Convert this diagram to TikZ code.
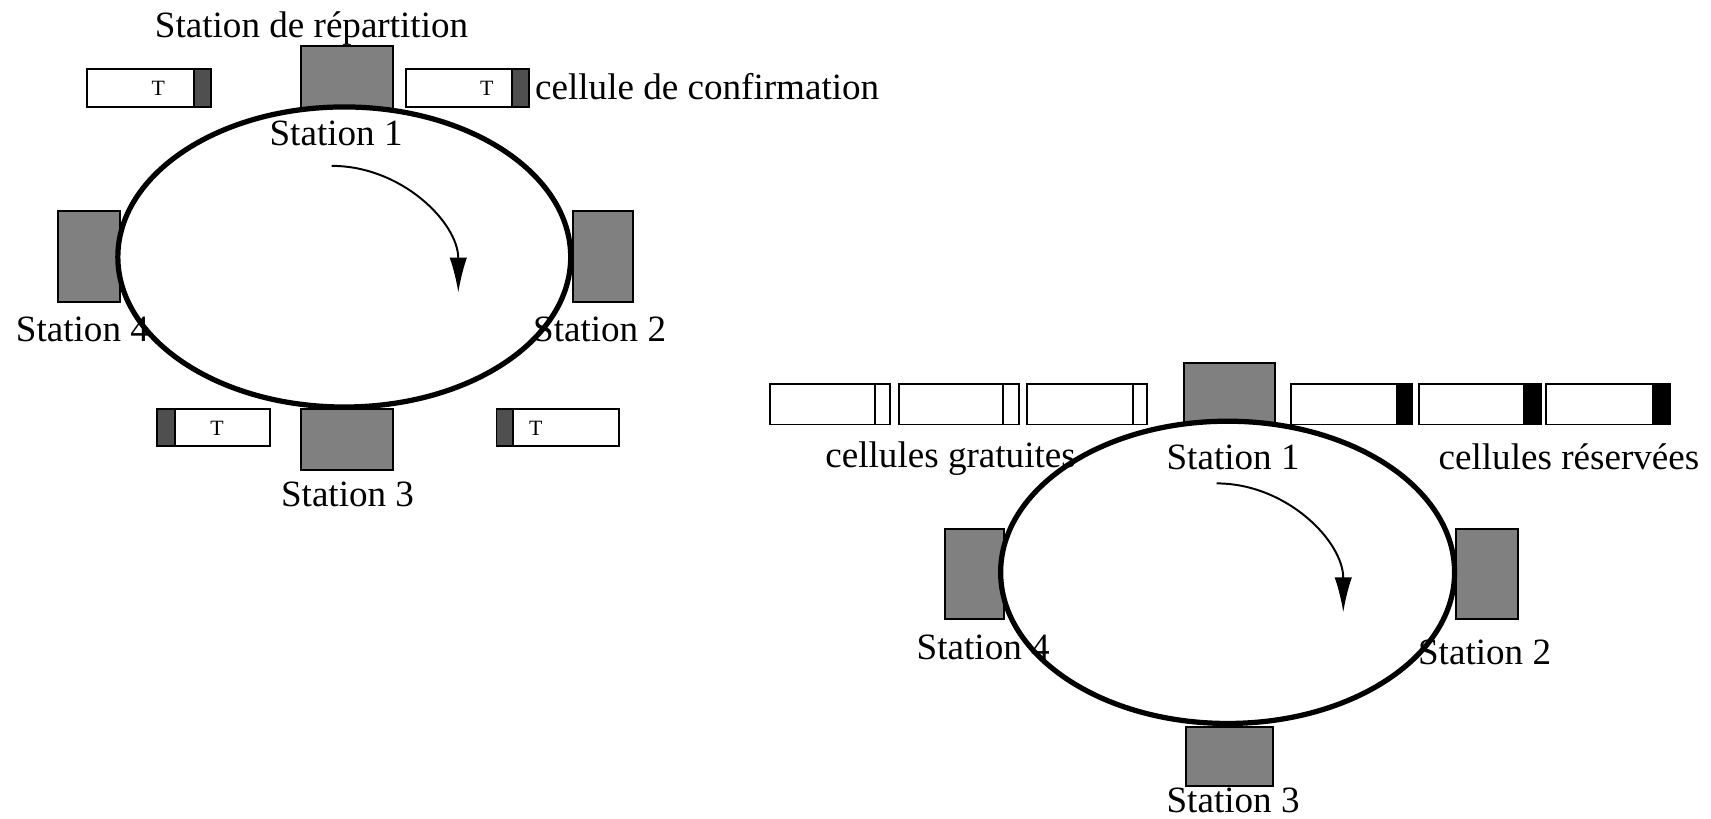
\documentclass[tikz,border=0pt]{standalone}
\usepackage{fontspec}
\setmainfont{Liberation Serif}
\usetikzlibrary{arrows.meta}
\definecolor{stgray}{gray}{0.5}
\definecolor{confgray}{gray}{0.31}
\tikzset{
  stationbox/.style={draw=black, fill=stgray, line width=0.9pt, inner sep=0pt, rectangle},
  cellbody/.style={draw=black, fill=white, line width=0.9pt, inner sep=0pt, rectangle},
  confend/.style={draw=black, fill=confgray, line width=0.9pt, inner sep=0pt, rectangle},
  resend/.style={draw=black, fill=black, line width=0.9pt, inner sep=0pt, rectangle},
  freeend/.style={draw=black, fill=white, line width=0.9pt, inner sep=0pt, rectangle},
  ring/.style={draw=black, fill=white, line width=2.4pt},
  lbl/.style={inner sep=0pt, font=\fontsize{17}{20}\selectfont},
  tlbl/.style={inner sep=0pt, font=\fontsize{10}{12}\selectfont},
  flow/.style={draw=black, line width=0.9pt, -{Latex[length=16pt,width=8pt]}}
}
\begin{document}
\begin{tikzpicture}[x=0.5pt,y=-0.5pt]
\useasboundingbox (0,0) rectangle (1568,750);

% ---------------- left diagram ----------------
\node[stationbox, minimum width=42pt, minimum height=34pt] (L1) at (318,76) {};
\node[stationbox, minimum width=27.5pt, minimum height=42pt] (L2) at (552.5,235) {};
\node[stationbox, minimum width=28.5pt, minimum height=42pt] (L4) at (81.5,235) {};
\node[stationbox, minimum width=42pt, minimum height=28pt] (L3) at (318,403) {};
\draw[ring] (315.5,235.5) ellipse [x radius=207.5, y radius=137.5];

% confirmation cells
\node[cellbody, minimum width=49pt, minimum height=17.5pt] (ca) at (129,80.5) {};
\node[confend, minimum width=7.5pt, minimum height=17.5pt] (cae) at (185.5,80.5) {};
\node[cellbody, minimum width=48.5pt, minimum height=17.5pt] (cb) at (420.5,80.5) {};
\node[confend, minimum width=8pt, minimum height=17.5pt] (cbe) at (477,80.5) {};
\node[confend, minimum width=8pt, minimum height=17pt] (cce) at (152,392) {};
\node[cellbody, minimum width=43.5pt, minimum height=17pt] (cc) at (203.5,392) {};
\node[confend, minimum width=7.5pt, minimum height=17pt] (cde) at (462.5,392) {};
\node[cellbody, minimum width=48.5pt, minimum height=17pt] (cd) at (518.5,392) {};
\node[tlbl] (ta) at (145,81) {T};
\node[tlbl] (tb) at (446,81) {T};
\node[tlbl] (tc) at (199,393) {T};
\node[tlbl] (td) at (491,393) {T};

\node[lbl, anchor=base] (lrep) at (285.5,34) {Station de répartition};
\node[lbl, anchor=base] (ls1) at (308,133) {Station 1};
\node[lbl, anchor=base west] (lconf) at (490,91) {cellule de confirmation};
\node[lbl, anchor=base] (ls2) at (549.5,313) {Station 2};
\node[lbl, anchor=base] (ls4) at (75.5,313) {Station 4};
\node[lbl, anchor=base] (ls3) at (318.5,464) {Station 3};

\coordinate (la) at (304,152);
\coordinate (lb) at (420,268);
\draw[flow] (la) .. controls (368,152) and (420,204) .. (lb);

% ---------------- right diagram ----------------
\node[stationbox, minimum width=41.5pt, minimum height=31pt] (R1) at (1126.5,364) {};
\node[stationbox, minimum width=28.5pt, minimum height=41pt] (R2) at (1362.5,526) {};
\node[stationbox, minimum width=27pt, minimum height=41pt] (R4) at (893,526) {};
\node[stationbox, minimum width=40pt, minimum height=27pt] (R3) at (1127,693) {};
\draw[ring] (1125,524.5) ellipse [x radius=208, y radius=138.5];

% free cells
\node[cellbody, minimum width=48pt, minimum height=18.5pt] (f1) at (754,370.5) {};
\node[freeend, minimum width=7pt, minimum height=18.5pt] (f1e) at (809,370.5) {};
\node[cellbody, minimum width=47.5pt, minimum height=18.5pt] (f2) at (871.5,370.5) {};
\node[freeend, minimum width=7.5pt, minimum height=18.5pt] (f2e) at (926.5,370.5) {};
\node[cellbody, minimum width=48.5pt, minimum height=18.5pt] (f3) at (989.5,370.5) {};
\node[freeend, minimum width=6.5pt, minimum height=18.5pt] (f3e) at (1044.5,370.5) {};
% reserved cells
\node[cellbody, minimum width=48.5pt, minimum height=18.5pt] (r1) at (1231.5,370.5) {};
\node[resend, minimum width=7pt, minimum height=18.5pt] (r1e) at (1287,370.5) {};
\node[cellbody, minimum width=48.5pt, minimum height=18.5pt] (r2) at (1348.5,370.5) {};
\node[resend, minimum width=7.5pt, minimum height=18.5pt] (r2e) at (1404.5,370.5) {};
\node[cellbody, minimum width=49pt, minimum height=18.5pt] (r3) at (1466,370.5) {};
\node[resend, minimum width=7.5pt, minimum height=18.5pt] (r3e) at (1522.5,370.5) {};

\node[lbl, anchor=base west] (rgrat) at (756,428) {cellules gratuites};
\node[lbl, anchor=base] (rs1) at (1130,430) {Station 1};
\node[lbl, anchor=base west] (rres) at (1318,430) {cellules réservées};
\node[lbl, anchor=base] (rs4) at (901,604) {Station 4};
\node[lbl, anchor=base] (rs2) at (1360.5,609) {Station 2};
\node[lbl, anchor=base] (rs3) at (1130,745) {Station 3};

\coordinate (ra) at (1115,443);
\coordinate (rb) at (1231,561);
\draw[flow] (ra) .. controls (1179,443) and (1231,496) .. (rb);
\end{tikzpicture}
\end{document}
